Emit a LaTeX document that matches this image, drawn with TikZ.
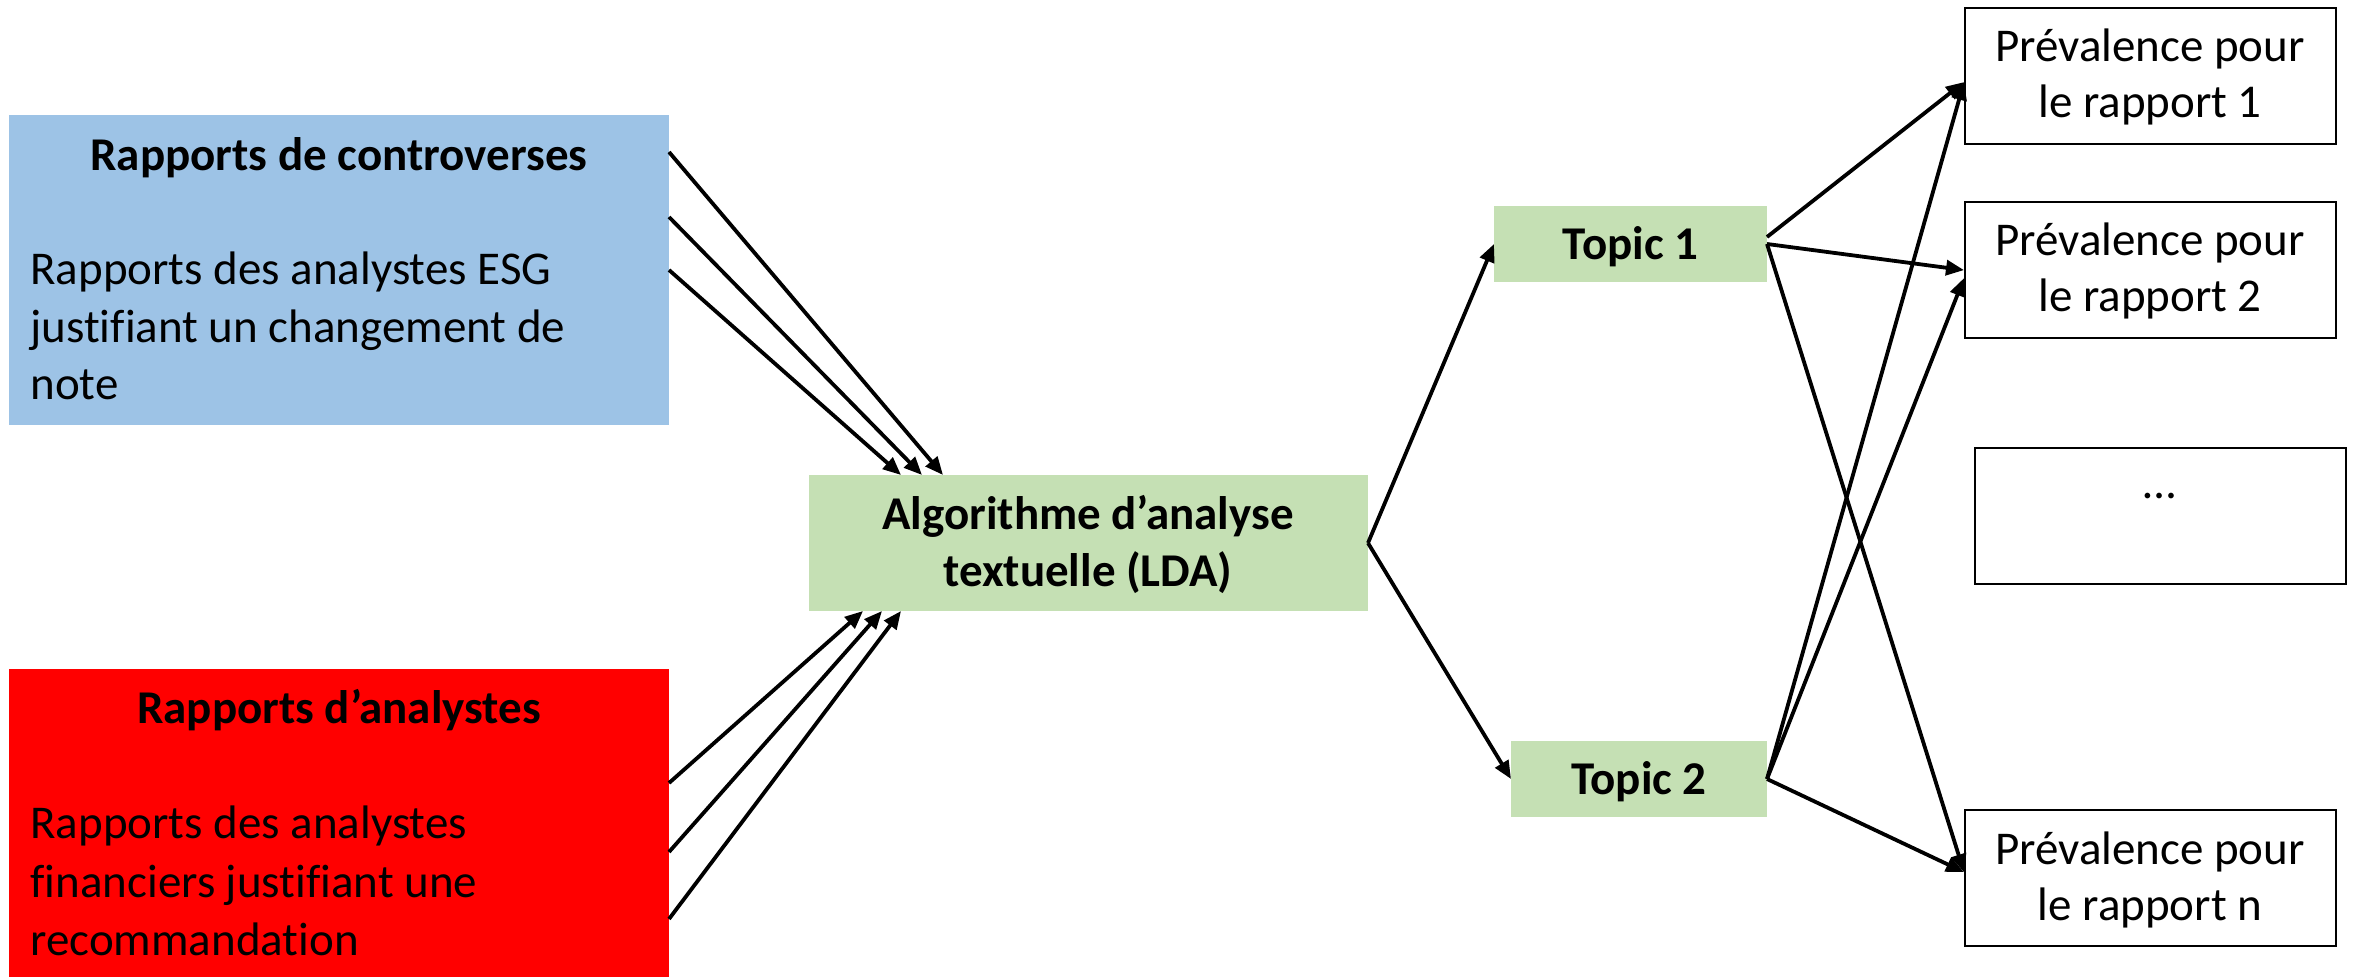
\documentclass[tikz,border=0pt]{standalone}
\usepackage{fontspec}
\setmainfont{Carlito}[Ligatures=NoCommon]
\usetikzlibrary{arrows.meta,calc}
\definecolor{esgblue}{HTML}{9DC3E6}
\definecolor{ldagreen}{HTML}{C5E0B4}
\definecolor{finred}{HTML}{FF0000}

\begin{document}
\begin{tikzpicture}[x=0.5pt,y=-0.5pt,
  fillbox/.style={draw=none, inner sep=0pt, outer sep=0pt, anchor=north west},
  plain/.style={font=\fontsize{23.5}{28.75}\selectfont, inner sep=0pt},
  heading/.style={font=\fontsize{23.5}{28.75}\selectfont\bfseries, inner sep=0pt},
  topicbox/.style={fillbox, fill=ldagreen, minimum height=38pt,
    font=\fontsize{23.5}{28.75}\selectfont\bfseries, text height=27pt, text depth=11pt},
  framebox/.style={draw=black, line width=1.1pt, fill=white, inner sep=0pt,
    anchor=north west, minimum width=185.5pt, minimum height=68pt},
  link/.style={line width=1.9pt, -{Triangle[length=9pt,width=7.5pt]}},
  ]
\useasboundingbox (0,0) rectangle (2356,977);
\fill[white] (0,0) rectangle (2356,977);

% source documents
\node[fillbox, fill=esgblue, minimum width=330pt, minimum height=155pt] (esg) at (9,115) {};
\node[heading, anchor=base] (esgtitle) at (339,171) {Rapports de controverses};
\node[plain, anchor=base west] (esgl1) at (30,285) {Rapports des analystes ESG};
\node[plain, anchor=base west] (esgl2) at (30,343) {justifiant un changement de};
\node[plain, anchor=base west] (esgl3) at (30,400) {note};

\node[fillbox, fill=finred, minimum width=330pt, minimum height=154pt] (fin) at (9,669) {};
\node[heading, anchor=base] (fintitle) at (339,724) {Rapports d’analystes};
\node[plain, anchor=base west] (finl1) at (30,838) {Rapports des analystes};
\node[plain, anchor=base west] (finl2) at (30,897) {financiers justifiant une};
\node[plain, anchor=base west] (finl3) at (30,955) {recommandation};

% topic model
\node[fillbox, fill=ldagreen, minimum width=279.5pt, minimum height=68pt] (lda) at (809,475) {};
\node[heading, anchor=base] (ldal1) at (1088,530) {Algorithme d’analyse};
\node[heading, anchor=base] (ldal2) at (1088,587) {textuelle (LDA)};

\node[topicbox, minimum width=136.5pt] (topic1) at (1494,206) {Topic 1};
\node[topicbox, minimum width=128pt] (topic2) at (1511,741) {Topic 2};

% per-report prevalences
\node[framebox] (p1) at (1964,7) {};
\node[plain, anchor=base] (p1a) at (2150,62) {Prévalence pour};
\node[plain, anchor=base] (p1b) at (2150,118) {le rapport 1};

\node[framebox] (p2) at (1964,201) {};
\node[plain, anchor=base] (p2a) at (2150,256) {Prévalence pour};
\node[plain, anchor=base] (p2b) at (2150,312) {le rapport 2};

\node[framebox] (pdots) at (1974,447) {};
\node[plain, anchor=base] (pdotsa) at (2160,499) {…};

\node[framebox] (pn) at (1964,809) {};
\node[plain, anchor=base] (pna) at (2150,864) {Prévalence pour};
\node[plain, anchor=base] (pnb) at (2150,920) {le rapport n};

% inputs to the algorithm
\draw[link] ($(esg.north east)+(0,37)$)  -- ($(lda.north west)+(134,0)$);
\draw[link] ($(esg.north east)+(0,102)$) -- ($(lda.north west)+(113,0)$);
\draw[link] ($(esg.north east)+(0,155)$) -- ($(lda.north west)+(92,0)$);
\draw[link] ($(fin.north east)+(0,114)$) -- ($(lda.south west)+(54,0)$);
\draw[link] ($(fin.north east)+(0,183)$) -- ($(lda.south west)+(73,0)$);
\draw[link] ($(fin.north east)+(0,250)$) -- ($(lda.south west)+(92,0)$);

% algorithm to topics
\draw[link] (lda.east) -- (topic1.west);
\draw[link] (lda.east) -- (topic2.west);

% topics to prevalences
\draw[link] ($(topic1.east)+(0,-7)$) -- ($(p1.west)+(0,6)$);
\draw[link] (topic1.east) -- (p2.west);
\draw[link] (topic1.east) -- ($(pn.west)+(0,-6)$);
\draw[link] (topic2.east) -- ($(p1.west)+(0,6)$);
\draw[link] (topic2.east) -- ($(p2.west)+(0,8)$);
\draw[link] (topic2.east) -- ($(pn.west)+(0,-6)$);
\end{tikzpicture}
\end{document}
